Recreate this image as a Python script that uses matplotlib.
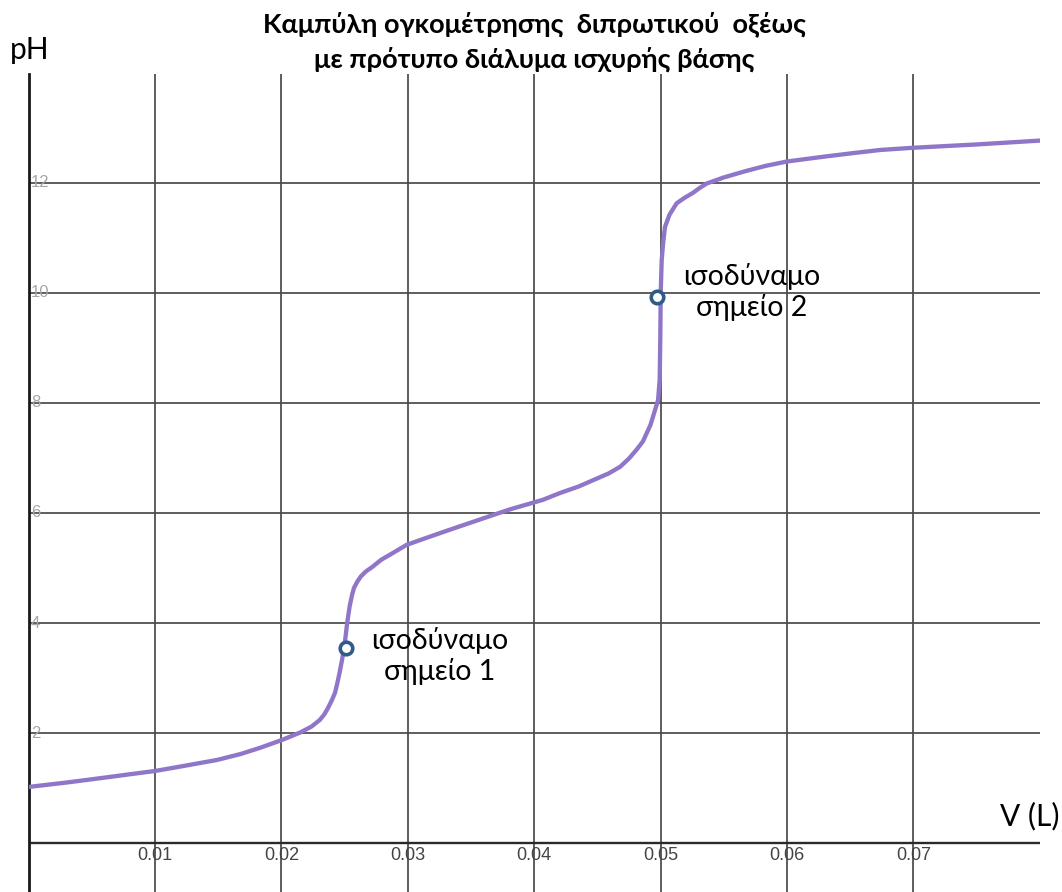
import matplotlib
matplotlib.use("Agg")
import matplotlib.pyplot as plt

plt.rcParams['font.family'] = ['Lato', 'Open Sans', 'DejaVu Sans']

# Titration curve of a diprotic acid with a strong base: volume (L) vs pH
volume = [0.0, 0.0030, 0.0057, 0.0080, 0.0100, 0.0120, 0.0149, 0.0168, 0.0183,
          0.0200, 0.0215, 0.0224, 0.02305, 0.0234, 0.0237, 0.0240, 0.02424,
          0.0244, 0.0246, 0.0248, 0.0250, 0.0252, 0.0254, 0.0256, 0.02575,
          0.0260, 0.0263, 0.0267, 0.0272, 0.0279, 0.0288, 0.0299, 0.0315,
          0.0330, 0.0344, 0.0362, 0.0380, 0.0407, 0.0420, 0.0435, 0.0447,
          0.0459, 0.0468, 0.0475, 0.0481, 0.0486, 0.0489, 0.0492, 0.0494,
          0.0496, 0.0498, 0.04993, 0.04998, 0.05001, 0.05009, 0.0502,
          0.05035, 0.0507, 0.0510, 0.05127, 0.0519, 0.05256, 0.0531, 0.05365,
          0.0550, 0.0568, 0.0583, 0.0600, 0.0630, 0.0655, 0.0674, 0.0700,
          0.0750, 0.0800]
ph = [1.02, 1.10, 1.18, 1.25, 1.31, 1.39, 1.51, 1.62, 1.73,
      1.87, 2.01, 2.12, 2.24, 2.34, 2.46, 2.60, 2.73,
      2.88, 3.09, 3.33, 3.60, 3.99, 4.30, 4.52, 4.64,
      4.75, 4.85, 4.94, 5.02, 5.15, 5.27, 5.42, 5.55,
      5.67, 5.78, 5.92, 6.06, 6.24, 6.36, 6.48, 6.60,
      6.72, 6.84, 6.99, 7.15, 7.30, 7.45, 7.60, 7.75,
      7.90, 8.05, 8.42, 9.20, 10.00, 10.60, 10.90,
      11.20, 11.42, 11.53, 11.63, 11.73, 11.82, 11.91, 11.99,
      12.10, 12.22, 12.31, 12.39, 12.48, 12.55, 12.60, 12.64,
      12.70, 12.77]

# Equivalence points
eq_volume = [0.0251, 0.0497]
eq_ph = [3.55, 9.92]
eq_labels = ["ισοδύναμο\nσημείο 1", "ισοδύναμο\nσημείο 2"]
eq_label_pos = [(0.03255, 3.40), (0.0572, 10.02)]

x_ticks = [0.01, 0.02, 0.03, 0.04, 0.05, 0.06, 0.07]
y_ticks = [2, 4, 6, 8, 10, 12]

fig = plt.figure(figsize=(10.62, 8.92), dpi=100)
ax = fig.add_axes([0.0269, 0.0, 0.9524, 0.917])
ax.set_xlim(0, 0.08002)
ax.set_ylim(-0.89, 13.98)

for s in ['top', 'right', 'bottom']:
    ax.spines[s].set_visible(False)
ax.spines['left'].set_linewidth(2.0)
ax.spines['left'].set_color('#1a1a1a')
ax.set_xticks([])
ax.set_yticks([])

grid_kw = dict(color='#4a4a4a', lw=1.25, zorder=1)
for v in x_ticks:
    ax.axvline(v, **grid_kw)
for p in y_ticks:
    ax.axhline(p, **grid_kw)
ax.axhline(0, color='#2a2a2a', lw=1.7, zorder=1)

ax.plot(volume, ph, color='#8f76c9', lw=3.1, solid_capstyle='round',
        solid_joinstyle='round', zorder=3)
ax.plot(eq_volume, eq_ph, 'o', ms=9, mfc='white', mec='#2f5b87', mew=2.6, zorder=4)

for (xv, yv), lab in zip(eq_label_pos, eq_labels):
    ax.text(xv, yv, lab, ha='center', va='center', fontsize=20.5,
            linespacing=1.2, color='black', zorder=5)

# tick labels drawn inside the plotting area
for p in y_ticks:
    ax.text(0.0002, p, str(p), ha='left', va='center', fontsize=12,
            color='#a6a6a6', family=['Liberation Sans'], zorder=2)
for v in x_ticks:
    ax.text(v, -0.22, f"{v:.2f}", ha='center', va='center', fontsize=13,
            color='#444444', family=['Liberation Sans'], zorder=2)

fig.text(0.0094, 0.944, "pH", ha='left', va='center', fontsize=21.5)
fig.text(0.9975, 0.0855, "V (L)", ha='right', va='center', fontsize=21.5)

fig.text(0.503, 0.973, "Καμπύλη ογκομέτρησης  διπρωτικού  οξέως",
         ha='center', va='center', fontsize=19.5, fontweight='bold')
fig.text(0.503, 0.934, "με πρότυπο διάλυμα ισχυρής βάσης",
         ha='center', va='center', fontsize=19.5, fontweight='bold')

fig.savefig("out.png", dpi=100)
